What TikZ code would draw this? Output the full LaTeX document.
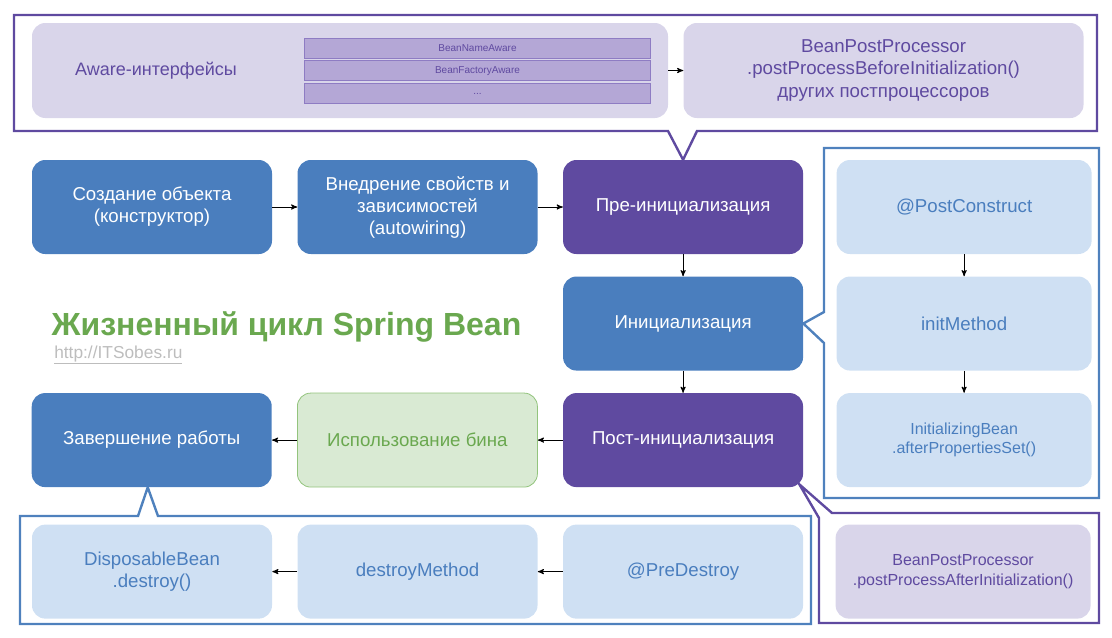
\documentclass[tikz,border=0pt]{standalone}
\usepackage{fontspec}
\setmainfont{Liberation Sans}
\usetikzlibrary{arrows,positioning,backgrounds}

\definecolor{stepblue}{HTML}{4A7EBE}
\definecolor{steppurple}{HTML}{5F4AA0}
\definecolor{paleblue}{HTML}{CFE0F3}
\definecolor{palepurple}{HTML}{D9D5EA}
\definecolor{listpurple}{HTML}{B4A7D6}
\definecolor{listedge}{HTML}{8E7CC3}
\definecolor{palegreen}{HTML}{D9EAD3}
\definecolor{greenedge}{HTML}{93C47D}
\definecolor{titlegreen}{HTML}{6AA84F}
\definecolor{frameblue}{HTML}{4F81BD}
\definecolor{urlgray}{HTML}{BDBDBD}

\tikzset{phase/.style={rectangle,rounded corners=10pt,minimum width=180pt,minimum height=70.5pt,
    inner sep=2pt,align=center,font=\fontsize{14}{16.5}\selectfont,text=white,fill=stepblue},
  phase purple/.style={phase,fill=steppurple},
  use node/.style={phase,fill=palegreen,draw=greenedge,line width=0.6pt,text=titlegreen},
  sub node/.style={phase,fill=paleblue,text=stepblue},
  bpp node/.style={phase,fill=palepurple,text=steppurple},
  small text/.style={font=\fontsize{12}{14.5}\selectfont},
  list row/.style={rectangle,fill=listpurple,draw=listedge,line width=0.6pt,minimum width=260pt,
    minimum height=15pt,inner sep=1pt,font=\fontsize{7.5}{9}\selectfont,text=steppurple},
  callout/.style={-,draw=#1,line width=1.8pt,line join=miter},
}

\begin{document}
\begin{tikzpicture}[x=0.75pt,y=-0.75pt,->,>=stealth',node distance=16.5pt and 18.75pt]
	\useasboundingbox (0,0) rectangle (1112,637);
	
	% main chain
	\node[phase] (create) at (152,207) {Создание объекта\\(конструктор)};
	\node[phase] (inject) [right=of create] {Внедрение свойств и\\зависимостей\\(autowiring)};
	\node[phase purple] (pre) [right=of inject] {Пре-инициализация};
	\node[phase] (init) [below=of pre] {Инициализация};
	\node[phase purple] (post) [below=of init] {Пост-инициализация};
	\node[use node] (use) [left=of post] {Использование бина};
	\node[phase] (finish) [left=of use] {Завершение работы};
	
	% aware + before
	\node[bpp node,minimum width=477pt,minimum height=71.25pt] (aware) at (350,70.5) {};
	\node[text=steppurple,font=\fontsize{13.5}{16}\selectfont] (awarelabel) at (156,70.5) {Aware-интерфейсы};
	\node[list row] (beanname) at (477.5,48) {BeanNameAware};
	\node[list row] (beanfactory) [below=1.5pt of beanname] {BeanFactoryAware};
	\node[list row] (moreaware) [below=1.5pt of beanfactory] {...};
	\node[bpp node,minimum width=300pt,minimum height=71.25pt,font=\fontsize{14}{17}\selectfont] (before) [right=11.25pt of aware]
		{BeanPostProcessor\\.postProcessBeforeInitialization()\\других постпроцессоров};
	
	% init steps
	\node[sub node,minimum width=191.25pt] (postconstruct) [right=24.75pt of pre] {@PostConstruct};
	\node[sub node,minimum width=191.25pt] (initmethod) [below=of postconstruct] {initMethod};
	\node[sub node,small text,minimum width=191.25pt] (initbean) [below=of initmethod]
		{InitializingBean\\.afterPropertiesSet()};
	
	% destroy steps
	\node[sub node] (predestroy) [below=27.75pt of post] {@PreDestroy};
	\node[sub node] (destroymethod) [left=of predestroy] {destroyMethod};
	\node[sub node] (disposable) [left=of destroymethod] {DisposableBean\\.destroy()};
	\node[bpp node,small text,minimum width=191.25pt] (after) [right=24pt of predestroy]
		{BeanPostProcessor\\.postProcessAfterInitialization()};
	
	% title
	\node[anchor=base west,text=titlegreen,font=\fontsize{24}{28}\selectfont\bfseries] (title) at (47,335)
		{Жизненный цикл Spring Bean};
	\node[anchor=base west,text=urlgray,font=\fontsize{13}{15}\selectfont,inner sep=0pt] (site) at (54,358)
		{\underline{http://ITSobes.ru}};
	
	\path[line width=0.7pt]
	(create) edge (inject)
	(inject) edge (pre)
	(pre) edge (init)
	(init) edge (post)
	(post) edge (use)
	(use) edge (finish)
	(aware) edge (before)
	(postconstruct) edge (initmethod)
	(initmethod) edge (initbean)
	(predestroy) edge (destroymethod)
	(destroymethod) edge (disposable)
	;
	
	\begin{scope}[on background layer]
		\draw[callout=steppurple] (14,15) -- (1097,15) -- (1097,131) -- (697,131) -- (pre.north)
			-- (668,131) -- (14,131) -- cycle;
		\draw[callout=frameblue] (824,148) -- (1099,148) -- (1099,498) -- (824,498) -- (824,343)
			-- (init.east) -- (824,312) -- cycle;
		\draw[callout=frameblue] (20,516) -- (138,516) -- ([xshift=-3pt]finish.south) -- (158,516)
			-- (811,516) -- (811,624) -- (20,624) -- cycle;
		\draw[callout=steppurple] ([shift={(-4,-3)}]post.south east) -- (832,513) -- (1099,513)
			-- (1099,623) -- (819,623) -- (819,518) -- cycle;
	\end{scope}
\end{tikzpicture}
\end{document}
